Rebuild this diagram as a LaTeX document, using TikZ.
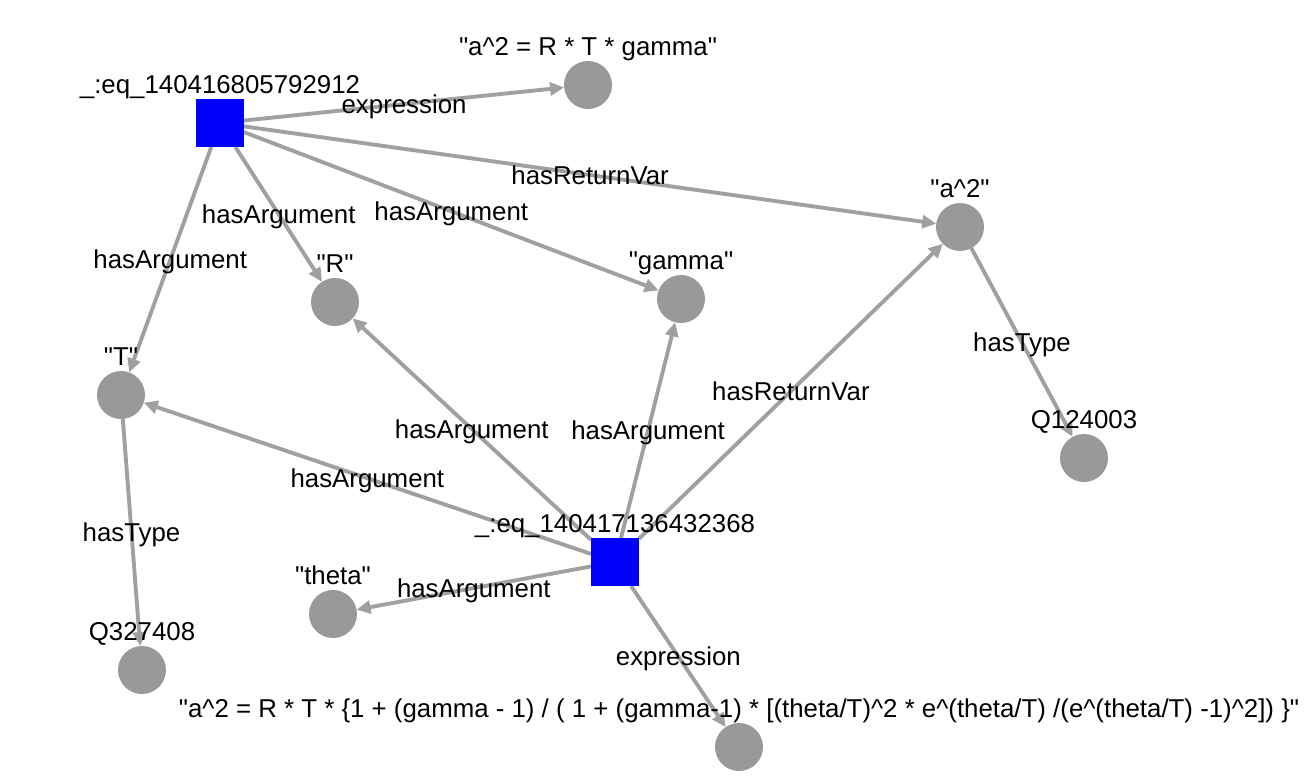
\documentclass[tikz,border=0pt]{standalone}
\usepackage{fontspec}
\setmainfont{Liberation Sans}
\usetikzlibrary{arrows.meta,positioning,backgrounds}
\definecolor{nodegray}{RGB}{153,153,153}
\definecolor{edgegray}{RGB}{160,160,160}
\newcommand{\qt}[1]{\textquotedbl#1\textquotedbl}
\newcommand{\crt}{\textasciicircum}

\begin{document}
\begin{tikzpicture}[x=0.02cm, y=-0.02cm, >={Triangle[length=0.28cm, width=0.26cm]},
  font=\fontsize{14.7}{17}\selectfont,
  eqbox/.style={rectangle, fill=blue, minimum size=0.96cm, inner sep=0, outer sep=0},
  val/.style={circle, fill=nodegray, minimum size=0.96cm, inner sep=0, outer sep=0},
  tag/.style={inner sep=0, text depth=0pt},
  edge/.style={->, draw=edgegray, line width=2.2pt},
  elabel/.style={inner sep=0, text height=0.366cm, text depth=0pt, text=black}]
  \useasboundingbox (0,0) rectangle (1314,782);
  % equations
  \foreach \n/\x/\y/\t in {eq1/220/123/{\_:eq\_140416805792912},
                           eq2/615/562/{\_:eq\_140417136432368}} {
    \node[eqbox] (\n) at (\x,\y) {};
    \node[tag, above=0.1cm of \n] (\n-tag) {\t};
  }
  % values
  \foreach \n/\x/\y/\t in {x1/588/85/{\qt{a\crt2 = R * T * gamma}},
                           a2/960/227/{\qt{a\crt2}},
                           R/335/302/{\qt{R}},
                           gamma/681/299/{\qt{gamma}},
                           T/121/395/{\qt{T}},
                           q1/1084/458/{Q124003},
                           theta/333/614/{\qt{theta}},
                           q2/142/670/{Q327408},
                           x2/739/747/{\qt{a\crt2 = R * T * \{1 + (gamma - 1) / ( 1 + (gamma-1) * [(theta/T)\crt2 * e\crt(theta/T) /(e\crt(theta/T) -1)\crt2]) \}}}} {
    \node[val] (\n) at (\x,\y) {};
    \node[tag, above=0.1cm of \n] (\n-tag) {\t};
  }
  % relations
  \begin{scope}[on background layer]
  \foreach \a/\b/\t in {eq1/x1/expression, eq1/a2/hasReturnVar, eq1/R/hasArgument,
                        eq1/gamma/hasArgument, eq1/T/hasArgument, a2/q1/hasType,
                        eq2/R/hasArgument, eq2/gamma/hasArgument, eq2/a2/hasReturnVar,
                        eq2/T/hasArgument, eq2/theta/hasArgument, eq2/x2/expression,
                        T/q2/hasType} {
    \draw[edge] (\a) -- (\b) node[elabel, midway] {\t};
  }
  \end{scope}
\end{tikzpicture}
\end{document}
